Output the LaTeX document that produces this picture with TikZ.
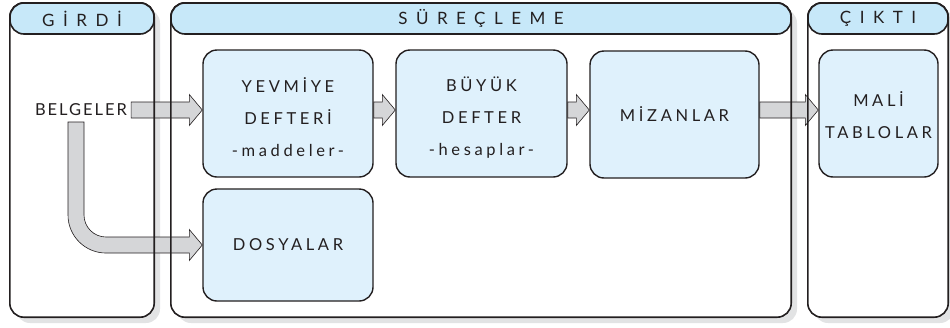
\documentclass[tikz,border=0pt]{standalone}
\usepackage{fontspec}
\setmainfont{Lato}
\newfontfamily\boxfont[LetterSpace=22]{Lato}
\newfontfamily\headfont[LetterSpace=50]{Lato}
\newfontfamily\docfont[LetterSpace=12]{Lato}
\usetikzlibrary{calc,shadows}
\definecolor{headblue}{RGB}{199,232,249}
\definecolor{boxblue}{RGB}{223,241,252}
\definecolor{arrowgray}{RGB}{213,214,216}
\definecolor{shadowgray}{RGB}{226,227,228}
\definecolor{inkdark}{RGB}{35,31,32}

% straight block arrow between two points on one row
\newcommand\blockarr[2]{%
  \draw[blockarrow] ($(#1)+(0,-8)$) -- ($(#2)+(-13,-8)$) -- ($(#2)+(-13,-15.5)$) -- (#2)
    -- ($(#2)+(-13,15.5)$) -- ($(#2)+(-13,8)$) -- ($(#1)+(0,8)$) -- cycle;}
% pushes the lines of a box a little down
\newcommand\upstrut{\rule{0pt}{22pt}}

\begin{document}
\begin{tikzpicture}[
  x=1pt,y=-1pt,
  panelfill/.style={fill=white,rounded corners=14pt,inner sep=0pt,minimum height=314pt,
    drop shadow={shadow xshift=6pt,shadow yshift=-6pt,fill=shadowgray,opacity=1}},
  panelline/.style={draw=inkdark,line width=1.6pt,rounded corners=14pt},
  header/.style={draw=inkdark,line width=1.6pt,rounded corners=14pt,fill=headblue,
    inner sep=0pt,minimum height=31pt,text=inkdark,font=\headfont\fontsize{17}{18}\selectfont},
  stepbox/.style={draw=inkdark,line width=1.4pt,rounded corners=14pt,fill=boxblue,
    inner sep=0pt,minimum height=127pt,align=center,text=inkdark,
    font=\boxfont\fontsize{16.5}{32}\selectfont},
  doclabel/.style={inner sep=4pt,text=inkdark,font=\docfont\fontsize{16.5}{18}\selectfont},
  blockarrow/.style={draw=inkdark,line width=0.6pt,fill=arrowgray}
]
\useasboundingbox (0,0) rectangle (950,327);

% Three columns, white with a soft shadow.
\node[panelfill,minimum width=144pt] (girdi) at (82,160) {};
\node[panelfill,minimum width=620pt] (surec) at (481,160) {};
\node[panelfill,minimum width=140pt] (cikti) at (878,160) {};

% Inner steps.
\node[stepbox,minimum width=170pt] (yevmiye) at (288,113.5) {\upstrut YEVMİYE\\DEFTERİ\\-maddeler-};
\node[stepbox,minimum width=171pt] (buyuk) at (481.5,113.5) {\upstrut BÜYÜK\\DEFTER\\-hesaplar-};
\node[stepbox,minimum width=169pt] (mizan) at (674.5,114.5) {MİZANLAR};
\node[stepbox,minimum width=119pt] (mali) at (878.5,113.5) {\rule{0pt}{18pt}MALİ\\TABLOLAR};
\node[stepbox,minimum width=170pt,minimum height=112pt] (dosyalar) at (288,245) {DOSYALAR};
\node[doclabel] (belgeler) at (81,110) {BELGELER};

% Block arrows along the row of BELGELER.
\blockarr{belgeler.east |- belgeler}{yevmiye.west |- belgeler}
\blockarr{yevmiye.east |- belgeler}{buyuk.west |- belgeler}
\blockarr{buyuk.east |- belgeler}{mizan.west |- belgeler}
\blockarr{mizan.east |- belgeler}{mali.west |- belgeler}

% Bent arrow down to DOSYALAR.
\draw[blockarrow] ($(belgeler.center)+(-13,12)$) -- ($(belgeler.center)+(-13,40)$)
  [rounded corners=38pt] |- ($(dosyalar.west)+(-60,8)$)
  [sharp corners] -- ($(dosyalar.west)+(-13,8)$) -- ($(dosyalar.west)+(-13,15.5)$)
  -- (dosyalar.west) -- ($(dosyalar.west)+(-13,-15.5)$) -- ($(dosyalar.west)+(-13,-8)$)
  -- ($(dosyalar.west)+(-60,-8)$)
  [rounded corners=22pt] -| ($(belgeler.center)+(3,40)$)
  [sharp corners] -- ($(belgeler.center)+(3,12)$) -- cycle;

% Column borders over the arrows, then the headings.
\foreach \col in {girdi,surec,cikti}
  \draw[panelline] (\col.north west) rectangle (\col.south east);
\node[header,minimum width=144pt] (girdihead) at (82,18.5) {GİRDİ};
\node[header,minimum width=620pt] (surechead) at (481,18.5) {SÜREÇLEME};
\node[header,minimum width=140pt] (ciktihead) at (878,18.5) {ÇIKTI};
\end{tikzpicture}
\end{document}
